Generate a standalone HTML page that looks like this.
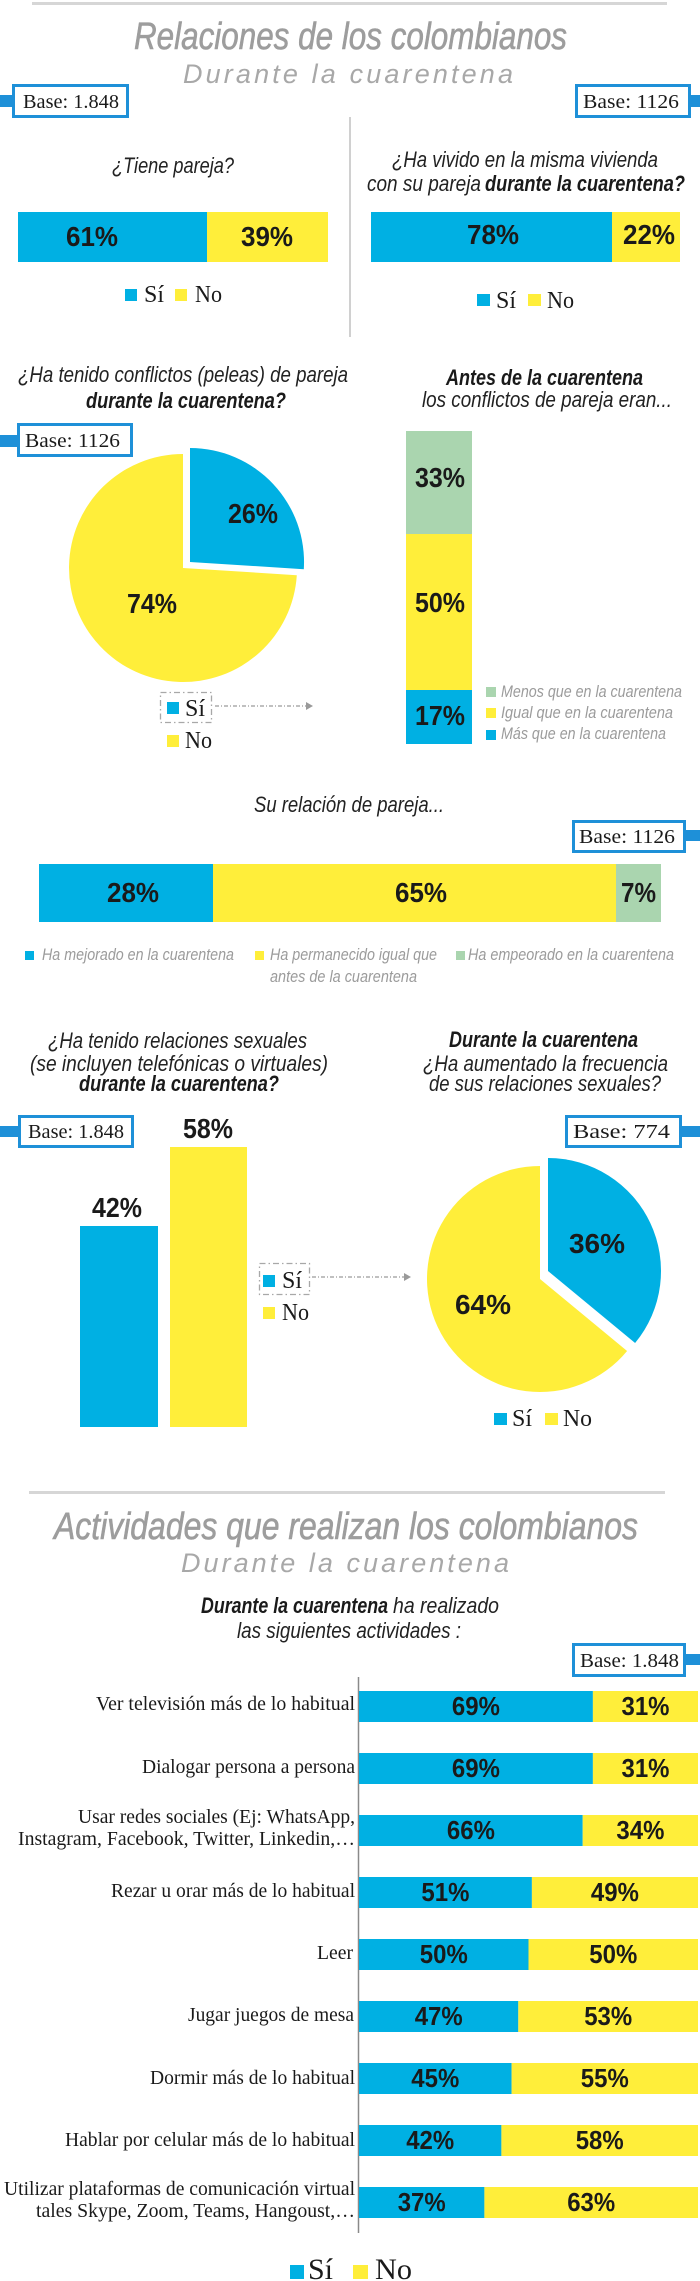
<!DOCTYPE html>
<html><head><meta charset="utf-8">
<style>
html,body{margin:0;padding:0;background:#fff;}
svg{display:block;}
.q{font-family:"Liberation Sans",sans-serif;font-style:italic;font-size:22px;fill:#222;}
.qb{font-family:"Liberation Sans",sans-serif;font-style:italic;font-weight:bold;font-size:22px;fill:#1a1a1a;}
.ti{font-family:"Liberation Sans",sans-serif;font-style:italic;font-size:38px;fill:#9d9d9d;stroke:#9d9d9d;stroke-width:0.6;}
.st{font-family:"Liberation Sans",sans-serif;font-style:italic;font-size:27px;fill:#a8a8a8;}
.p{font-family:"Liberation Sans",sans-serif;font-weight:bold;font-size:28px;fill:#1a1a1a;}
.pa{font-family:"Liberation Sans",sans-serif;font-weight:bold;font-size:26px;fill:#1a1a1a;}
.b{font-family:"Liberation Serif",serif;font-size:20px;fill:#1a1a1a;}
.lg{font-family:"Liberation Serif",serif;font-size:24px;fill:#1a1a1a;}
.lg2{font-family:"Liberation Serif",serif;font-size:30px;fill:#1a1a1a;}
.gl{font-family:"Liberation Sans",sans-serif;font-style:italic;font-size:16.5px;fill:#9b9b9b;}
.rl{font-family:"Liberation Serif",serif;font-size:20px;fill:#1a1a1a;}
</style></head>
<body>
<svg width="700" height="2281" viewBox="0 0 700 2281" xmlns="http://www.w3.org/2000/svg">
<!-- ===== Section 1 header ===== -->
<rect x="32" y="2" width="635" height="3" fill="#d6d6d6"/>
<text class="ti" x="134" y="49" textLength="433" lengthAdjust="spacingAndGlyphs">Relaciones de los colombianos</text>
<text class="st" x="183" y="83" textLength="330" lengthAdjust="spacing">Durante la cuarentena</text>

<!-- Base boxes -->
<rect x="0" y="95" width="13" height="12" fill="#1E90D8"/>
<rect x="13.5" y="85.5" width="114" height="31" fill="#fff" stroke="#1E90D8" stroke-width="3"/>
<text class="b" x="23" y="108" textLength="96" lengthAdjust="spacingAndGlyphs">Base: 1.848</text>

<rect x="690" y="95" width="10" height="12" fill="#1E90D8"/>
<rect x="576.5" y="85.5" width="113" height="31" fill="#fff" stroke="#1E90D8" stroke-width="3"/>
<text class="b" x="583" y="108" textLength="96" lengthAdjust="spacingAndGlyphs">Base: 1126</text>

<line x1="350" y1="117" x2="350" y2="337" stroke="#d0d0d0" stroke-width="2"/>

<!-- Q1 -->
<text class="q" x="112" y="173" textLength="122" lengthAdjust="spacingAndGlyphs">¿Tiene pareja?</text>
<rect x="18" y="212" width="189" height="50" fill="#00B0E3"/>
<rect x="207" y="212" width="121" height="50" fill="#FFEE3A"/>
<text class="p" x="66" y="246" textLength="52" lengthAdjust="spacingAndGlyphs">61%</text>
<text class="p" x="241" y="246" textLength="52" lengthAdjust="spacingAndGlyphs">39%</text>
<rect x="125" y="289" width="12" height="12" fill="#00B0E3"/>
<text class="lg" x="144" y="302">Sí</text>
<rect x="175" y="289" width="12" height="12" fill="#FFEE3A"/>
<text class="lg" x="195" y="302" textLength="27" lengthAdjust="spacingAndGlyphs">No</text>

<!-- Q2 -->
<text class="q" x="392" y="167" textLength="266" lengthAdjust="spacingAndGlyphs">¿Ha vivido en la misma vivienda</text>
<text class="q" x="367" y="191" textLength="114" lengthAdjust="spacingAndGlyphs">con su pareja</text>
<text class="qb" x="485" y="191" textLength="200" lengthAdjust="spacingAndGlyphs">durante la cuarentena?</text>
<rect x="371" y="212" width="241" height="50" fill="#00B0E3"/>
<rect x="612" y="212" width="68" height="50" fill="#FFEE3A"/>
<text class="p" x="467" y="244" textLength="52" lengthAdjust="spacingAndGlyphs">78%</text>
<text class="p" x="623" y="244" textLength="52" lengthAdjust="spacingAndGlyphs">22%</text>
<rect x="477" y="294" width="13" height="12" fill="#00B0E3"/>
<text class="lg" x="496" y="308">Sí</text>
<rect x="528" y="294" width="13" height="12" fill="#FFEE3A"/>
<text class="lg" x="547" y="308" textLength="27" lengthAdjust="spacingAndGlyphs">No</text>

<!-- ===== Section 2 ===== -->
<text class="q" x="18" y="382" textLength="330" lengthAdjust="spacingAndGlyphs">¿Ha tenido conflictos (peleas) de pareja</text>
<text class="qb" x="86" y="408" textLength="200" lengthAdjust="spacingAndGlyphs">durante la cuarentena?</text>
<text class="qb" x="446" y="385" textLength="197" lengthAdjust="spacingAndGlyphs">Antes de la cuarentena</text>
<text class="q" x="422" y="407" textLength="250" lengthAdjust="spacingAndGlyphs">los conflictos de pareja eran...</text>

<rect x="0" y="435" width="18" height="12" fill="#1E90D8"/>
<rect x="18.5" y="424.5" width="113" height="31" fill="#fff" stroke="#1E90D8" stroke-width="3"/>
<text class="b" x="25" y="447" textLength="95" lengthAdjust="spacingAndGlyphs">Base: 1126</text>

<!-- Pie 1 -->
<path d="M183,568 L296.8,575.2 A114,114 0 1 1 183,454 Z" fill="#FFEE3A"/>
<path d="M190,562 L190,448 A114,114 0 0 1 303.8,569.2 Z" fill="#00B0E3"/>
<text class="p" x="228" y="523" textLength="50" lengthAdjust="spacingAndGlyphs">26%</text>
<text class="p" x="127" y="613" textLength="50" lengthAdjust="spacingAndGlyphs">74%</text>

<rect x="160.5" y="692.5" width="51" height="30" fill="none" stroke="#a8a8a8" stroke-width="1.3" stroke-dasharray="6,3,1.5,3"/>
<rect x="167" y="702" width="12" height="12" fill="#00B0E3"/>
<text class="lg" x="185" y="716">Sí</text>
<line x1="215" y1="706" x2="307" y2="706" stroke="#9a9a9a" stroke-width="1.2" stroke-dasharray="4,2,1,2"/>
<polygon points="306,702 313,706 306,710" fill="#9a9a9a"/>
<rect x="167" y="735" width="12" height="12" fill="#FFEE3A"/>
<text class="lg" x="185" y="748" textLength="27" lengthAdjust="spacingAndGlyphs">No</text>

<!-- Stacked vertical bar -->
<rect x="406" y="431" width="66" height="103" fill="#AAD5AF"/>
<rect x="406" y="534" width="66" height="156" fill="#FFEE3A"/>
<rect x="406" y="690" width="66" height="54" fill="#00B0E3"/>
<text class="p" x="415" y="487" textLength="50" lengthAdjust="spacingAndGlyphs">33%</text>
<text class="p" x="415" y="612" textLength="50" lengthAdjust="spacingAndGlyphs">50%</text>
<text class="p" x="415" y="725" textLength="50" lengthAdjust="spacingAndGlyphs">17%</text>
<rect x="486" y="687" width="10" height="10" fill="#AAD5AF"/>
<text class="gl" x="501" y="697" textLength="181" lengthAdjust="spacingAndGlyphs">Menos que en la cuarentena</text>
<rect x="486" y="708" width="10" height="10" fill="#FFEE3A"/>
<text class="gl" x="501" y="718" textLength="172" lengthAdjust="spacingAndGlyphs">Igual que en la cuarentena</text>
<rect x="486" y="730" width="10" height="10" fill="#00B0E3"/>
<text class="gl" x="501" y="739" textLength="165" lengthAdjust="spacingAndGlyphs">Más que en la cuarentena</text>

<!-- ===== Section 3 ===== -->
<text class="q" x="254" y="812" textLength="190" lengthAdjust="spacingAndGlyphs">Su relación de pareja...</text>
<rect x="685" y="830" width="15" height="11" fill="#1E90D8"/>
<rect x="573.5" y="821.5" width="111" height="30" fill="#fff" stroke="#1E90D8" stroke-width="3"/>
<text class="b" x="579" y="843" textLength="96" lengthAdjust="spacingAndGlyphs">Base: 1126</text>

<rect x="39" y="864" width="174" height="58" fill="#00B0E3"/>
<rect x="213" y="864" width="403" height="58" fill="#FFEE3A"/>
<rect x="616" y="864" width="45" height="58" fill="#AAD5AF"/>
<text class="p" x="107" y="902" textLength="52" lengthAdjust="spacingAndGlyphs">28%</text>
<text class="p" x="395" y="902" textLength="52" lengthAdjust="spacingAndGlyphs">65%</text>
<text class="p" x="621" y="902" textLength="35" lengthAdjust="spacingAndGlyphs">7%</text>

<rect x="25" y="951" width="9" height="9" fill="#00B0E3"/>
<text class="gl" x="42" y="960" textLength="192" lengthAdjust="spacingAndGlyphs">Ha mejorado en la cuarentena</text>
<rect x="255" y="951" width="9" height="9" fill="#FFEE3A"/>
<text class="gl" x="270" y="960" textLength="167" lengthAdjust="spacingAndGlyphs">Ha permanecido igual que</text>
<text class="gl" x="270" y="982" textLength="147" lengthAdjust="spacingAndGlyphs">antes de la cuarentena</text>
<rect x="456" y="951" width="9" height="9" fill="#AAD5AF"/>
<text class="gl" x="468" y="960" textLength="206" lengthAdjust="spacingAndGlyphs">Ha empeorado en la cuarentena</text>

<!-- ===== Section 4 ===== -->
<text class="q" x="48" y="1048" textLength="259" lengthAdjust="spacingAndGlyphs">¿Ha tenido relaciones sexuales</text>
<text class="q" x="30" y="1071" textLength="298" lengthAdjust="spacingAndGlyphs">(se incluyen telefónicas o virtuales)</text>
<text class="qb" x="79" y="1091" textLength="200" lengthAdjust="spacingAndGlyphs">durante la cuarentena?</text>
<text class="qb" x="449" y="1047" textLength="189" lengthAdjust="spacingAndGlyphs">Durante la cuarentena</text>
<text class="q" x="423" y="1071" textLength="245" lengthAdjust="spacingAndGlyphs">¿Ha aumentado la frecuencia</text>
<text class="q" x="429" y="1091" textLength="232" lengthAdjust="spacingAndGlyphs">de sus relaciones sexuales?</text>

<rect x="0" y="1126" width="19" height="11" fill="#1E90D8"/>
<rect x="19.5" y="1116.5" width="113" height="30" fill="#fff" stroke="#1E90D8" stroke-width="3"/>
<text class="b" x="28" y="1138" textLength="96" lengthAdjust="spacingAndGlyphs">Base: 1.848</text>

<rect x="681" y="1126" width="19" height="11" fill="#1E90D8"/>
<rect x="566.5" y="1116.5" width="114" height="30" fill="#fff" stroke="#1E90D8" stroke-width="3"/>
<text class="b" x="573" y="1138" textLength="97" lengthAdjust="spacingAndGlyphs">Base: 774</text>

<rect x="80" y="1226" width="78" height="201" fill="#00B0E3"/>
<rect x="170" y="1147" width="77" height="280" fill="#FFEE3A"/>
<text class="p" x="92" y="1217" textLength="50" lengthAdjust="spacingAndGlyphs">42%</text>
<text class="p" x="183" y="1138" textLength="50" lengthAdjust="spacingAndGlyphs">58%</text>

<rect x="259.5" y="1263.5" width="50" height="31" fill="none" stroke="#a8a8a8" stroke-width="1.3" stroke-dasharray="6,3,1.5,3"/>
<rect x="263" y="1275" width="12" height="12" fill="#00B0E3"/>
<text class="lg" x="282" y="1288">Sí</text>
<line x1="312" y1="1277" x2="405" y2="1277" stroke="#9a9a9a" stroke-width="1.2" stroke-dasharray="4,2,1,2"/>
<polygon points="404,1273 411,1277 404,1281" fill="#9a9a9a"/>
<rect x="263" y="1307" width="12" height="12" fill="#FFEE3A"/>
<text class="lg" x="282" y="1320" textLength="27" lengthAdjust="spacingAndGlyphs">No</text>

<!-- Pie 2 -->
<path d="M540,1279 L627.1,1351 A113,113 0 1 1 540,1166 Z" fill="#FFEE3A"/>
<path d="M548,1271 L548,1158 A113,113 0 0 1 635.1,1343 Z" fill="#00B0E3"/>
<text class="p" x="569" y="1253" textLength="56" lengthAdjust="spacingAndGlyphs">36%</text>
<text class="p" x="455" y="1314" textLength="56" lengthAdjust="spacingAndGlyphs">64%</text>
<rect x="494" y="1413" width="13" height="12" fill="#00B0E3"/>
<text class="lg" x="512" y="1426">Sí</text>
<rect x="545" y="1413" width="13" height="12" fill="#FFEE3A"/>
<text class="lg" x="563" y="1426" textLength="29" lengthAdjust="spacingAndGlyphs">No</text>

<!-- ===== Section 5 ===== -->
<rect x="29" y="1491" width="636" height="3" fill="#d6d6d6"/>
<text class="ti" x="54" y="1539" textLength="584" lengthAdjust="spacingAndGlyphs">Actividades que realizan los colombianos</text>
<text class="st" x="181" y="1572" textLength="328" lengthAdjust="spacing">Durante la cuarentena</text>

<text class="qb" x="201" y="1613" textLength="187" lengthAdjust="spacingAndGlyphs">Durante la cuarentena</text>
<text class="q" x="393" y="1613" textLength="106" lengthAdjust="spacingAndGlyphs">ha realizado</text>
<text class="q" x="237" y="1638" textLength="224" lengthAdjust="spacingAndGlyphs">las siguientes actividades :</text>

<rect x="685" y="1654" width="15" height="11" fill="#1E90D8"/>
<rect x="573.5" y="1644.5" width="111" height="31" fill="#fff" stroke="#1E90D8" stroke-width="3"/>
<text class="b" x="580" y="1667" textLength="99" lengthAdjust="spacingAndGlyphs">Base: 1.848</text>

<line x1="358.5" y1="1677" x2="358.5" y2="2233" stroke="#8a8a8a" stroke-width="1.5"/>

<!-- Rows -->
<rect x="359" y="1691" width="233.9" height="31" fill="#00B0E3"/><rect x="592.9" y="1691" width="105.1" height="31" fill="#FFEE3A"/>
<text class="pa" x="451.9" y="1715" textLength="48" lengthAdjust="spacingAndGlyphs">69%</text><text class="pa" x="621.5" y="1715" textLength="48" lengthAdjust="spacingAndGlyphs">31%</text>
<text class="rl" x="96" y="1710" textLength="259" lengthAdjust="spacingAndGlyphs">Ver televisión más de lo habitual</text>

<rect x="359" y="1753" width="233.9" height="31" fill="#00B0E3"/><rect x="592.9" y="1753" width="105.1" height="31" fill="#FFEE3A"/>
<text class="pa" x="451.9" y="1777" textLength="48" lengthAdjust="spacingAndGlyphs">69%</text><text class="pa" x="621.5" y="1777" textLength="48" lengthAdjust="spacingAndGlyphs">31%</text>
<text class="rl" x="142" y="1773" textLength="213" lengthAdjust="spacingAndGlyphs">Dialogar persona a persona</text>

<rect x="359" y="1815" width="223.7" height="31" fill="#00B0E3"/><rect x="582.7" y="1815" width="115.3" height="31" fill="#FFEE3A"/>
<text class="pa" x="446.9" y="1839" textLength="48" lengthAdjust="spacingAndGlyphs">66%</text><text class="pa" x="616.4" y="1839" textLength="48" lengthAdjust="spacingAndGlyphs">34%</text>
<text class="rl" x="78" y="1823" textLength="277" lengthAdjust="spacingAndGlyphs">Usar redes sociales (Ej: WhatsApp,</text>
<text class="rl" x="18" y="1845" textLength="337" lengthAdjust="spacingAndGlyphs">Instagram, Facebook, Twitter, Linkedin,…</text>

<rect x="359" y="1877" width="172.9" height="31" fill="#00B0E3"/><rect x="531.9" y="1877" width="166.1" height="31" fill="#FFEE3A"/>
<text class="pa" x="421.4" y="1901" textLength="48" lengthAdjust="spacingAndGlyphs">51%</text><text class="pa" x="590.9" y="1901" textLength="48" lengthAdjust="spacingAndGlyphs">49%</text>
<text class="rl" x="111" y="1897" textLength="244" lengthAdjust="spacingAndGlyphs">Rezar u orar más de lo habitual</text>

<rect x="359" y="1939" width="169.5" height="31" fill="#00B0E3"/><rect x="528.5" y="1939" width="169.5" height="31" fill="#FFEE3A"/>
<text class="pa" x="419.8" y="1963" textLength="48" lengthAdjust="spacingAndGlyphs">50%</text><text class="pa" x="589.3" y="1963" textLength="48" lengthAdjust="spacingAndGlyphs">50%</text>
<text class="rl" x="317" y="1959" textLength="36" lengthAdjust="spacingAndGlyphs">Leer</text>

<rect x="359" y="2001" width="159.3" height="31" fill="#00B0E3"/><rect x="518.3" y="2001" width="179.7" height="31" fill="#FFEE3A"/>
<text class="pa" x="414.7" y="2025" textLength="48" lengthAdjust="spacingAndGlyphs">47%</text><text class="pa" x="584.2" y="2025" textLength="48" lengthAdjust="spacingAndGlyphs">53%</text>
<text class="rl" x="188" y="2021" textLength="166" lengthAdjust="spacingAndGlyphs">Jugar juegos de mesa</text>

<rect x="359" y="2063" width="152.6" height="31" fill="#00B0E3"/><rect x="511.6" y="2063" width="186.4" height="31" fill="#FFEE3A"/>
<text class="pa" x="411.3" y="2087" textLength="48" lengthAdjust="spacingAndGlyphs">45%</text><text class="pa" x="580.8" y="2087" textLength="48" lengthAdjust="spacingAndGlyphs">55%</text>
<text class="rl" x="150" y="2084" textLength="205" lengthAdjust="spacingAndGlyphs">Dormir más de lo habitual</text>

<rect x="359" y="2125" width="142.4" height="31" fill="#00B0E3"/><rect x="501.4" y="2125" width="196.6" height="31" fill="#FFEE3A"/>
<text class="pa" x="406.2" y="2149" textLength="48" lengthAdjust="spacingAndGlyphs">42%</text><text class="pa" x="575.7" y="2149" textLength="48" lengthAdjust="spacingAndGlyphs">58%</text>
<text class="rl" x="65" y="2146" textLength="290" lengthAdjust="spacingAndGlyphs">Hablar por celular más de lo habitual</text>

<rect x="359" y="2187" width="125.4" height="31" fill="#00B0E3"/><rect x="484.4" y="2187" width="213.6" height="31" fill="#FFEE3A"/>
<text class="pa" x="397.7" y="2211" textLength="48" lengthAdjust="spacingAndGlyphs">37%</text><text class="pa" x="567.2" y="2211" textLength="48" lengthAdjust="spacingAndGlyphs">63%</text>
<text class="rl" x="4" y="2195" textLength="351" lengthAdjust="spacingAndGlyphs">Utilizar plataformas de comunicación virtual</text>
<text class="rl" x="36" y="2217" textLength="319" lengthAdjust="spacingAndGlyphs">tales Skype, Zoom, Teams, Hangoust,…</text>

<!-- Bottom legend -->
<rect x="290" y="2265" width="14" height="14" fill="#00B0E3"/>
<text class="lg2" x="308" y="2279">Sí</text>
<rect x="353" y="2265" width="15" height="14" fill="#FFEE3A"/>
<text class="lg2" x="375" y="2279" textLength="37" lengthAdjust="spacingAndGlyphs">No</text>
</svg>
</body></html>
